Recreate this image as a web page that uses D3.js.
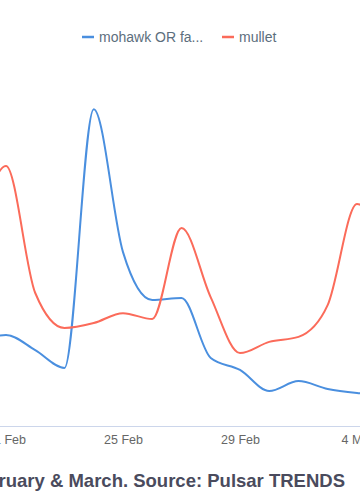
<!DOCTYPE html>
<html lang="en">
<head>
<meta charset="UTF-8">
<title>mohawk vs mullet</title>
<style>
    body { margin: 0; background: #fff; }
    svg { display: block; font-family: "Liberation Sans", Arial, sans-serif; }
    .axis text { font-size: 12.5px; fill: #666; }
    .legend text { font-size: 14px; fill: #5c6e7d; }
</style>
</head>
<body>
<svg width="360" height="500"></svg>
<script src="https://cdn.jsdelivr.net/npm/d3@7"></script>
<script>

var days = ["2024-02-20", "2024-02-21", "2024-02-22", "2024-02-23", "2024-02-24",
    "2024-02-25", "2024-02-26", "2024-02-27", "2024-02-28", "2024-02-29",
    "2024-03-01", "2024-03-02", "2024-03-03", "2024-03-04", "2024-03-05"];
var mohawk = [24.5, 27.6, 23, 17.6, 96, 52.7, 38.2, 38.8, 20.6, 17, 10.6, 13.6, 11.2, 10, 9.4];
var mullet = [56, 78.8, 40.3, 29.7, 31.2, 34.2, 32.4, 60, 39, 22.1, 25.5, 27, 36.7, 67.3, 55];
var tickDays = ["2024-02-21", "2024-02-25", "2024-02-29", "2024-03-04"];
var seriesNames = ["mohawk OR fa...", "mullet"];
var colors = ["#4a8fdf", "#fb6b5a"];

var parse = d3.utcParse("%Y-%m-%d");
var dates = days.map(parse);

var svg = d3.select("svg");

var x = d3.scaleUtc()
    .domain([parse("2024-02-21"), parse("2024-03-04")])
    .range([6, 357]);

var y = d3.scaleLinear()
    .domain([0, 100])
    .range([426, 96]);

// axis
var axis = svg.append("g")
    .attr("class", "axis")
    .attr("transform", "translate(0,426)")
    .call(d3.axisBottom(x)
        .tickValues(tickDays.map(parse))
        .tickFormat(d3.utcFormat("%-d %b"))
        .tickSize(0)
        .tickPadding(9));
axis.select(".domain").attr("stroke", "#ccd6eb").attr("d", "M-10,0.5H370");
axis.selectAll("text").attr("font-family", null);

var line = d3.line()
    .x(function(d, i) { return x(dates[i]); })
    .y(function(d) { return y(d); })
    .curve(d3.curveMonotoneX);

[mohawk, mullet].forEach(function(s, k) {
    svg.append("path")
        .datum(s)
        .attr("fill", "none")
        .attr("stroke", colors[k])
        .attr("stroke-width", 2)
        .attr("d", line);
});

// legend
var legend = svg.append("g").attr("class", "legend");
var legendX = [82, 222];
seriesNames.forEach(function(name, k) {
    legend.append("line")
        .attr("x1", legendX[k]).attr("x2", legendX[k] + 12)
        .attr("y1", 37).attr("y2", 37)
        .attr("stroke", colors[k])
        .attr("stroke-width", 2.5);
    legend.append("text")
        .attr("x", legendX[k] + 17)
        .attr("y", 42)
        .text(name);
});

// caption, runs off the left edge like the original
svg.append("text")
    .attr("x", 345)
    .attr("y", 487)
    .attr("text-anchor", "end")
    .attr("font-size", 18.5)
    .attr("font-weight", "bold")
    .attr("fill", "#4a4b5d")
    .text("Mentions of mohawk and mullet in February & March. Source: Pulsar TRENDS");

</script>
</body>
</html>
